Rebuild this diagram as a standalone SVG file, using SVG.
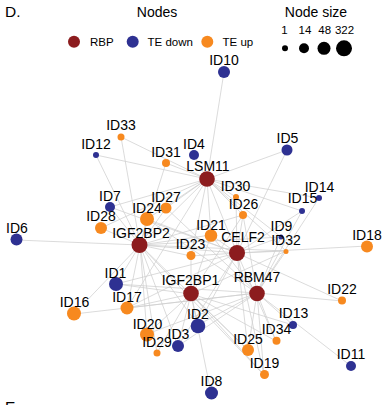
<svg xmlns="http://www.w3.org/2000/svg" width="383" height="405" viewBox="0 0 383 405">
<style>
.rbp{fill:#8C1C1E}
.down{fill:#2E3192}
.up{fill:#F7891F}
.blk{fill:#000}
text{font-family:"Liberation Sans",Arial,Helvetica,sans-serif;fill:#000}
.lbl{font-size:14px;text-anchor:middle}
.leg{font-size:11.5px}
.ttl{font-size:14px}
#connectors line{stroke:#CFCFCF;stroke-width:0.75}
</style>
<rect width="383" height="405" fill="#fff"/>
<text x="5" y="17" style="font-size:15.5px">D.</text>
<text x="5" y="412" style="font-size:15.5px">E.</text>
<g id="legend-nodes">
<text class="ttl" x="157" y="17" text-anchor="middle">Nodes</text>
<circle class="rbp" cx="74" cy="41.7" r="6"/><text class="leg" x="90" y="45.5">RBP</text>
<circle class="down" cx="132.7" cy="41.7" r="6"/><text class="leg" x="147.5" y="45.5">TE down</text>
<circle class="up" cx="207.3" cy="41.7" r="6"/><text class="leg" x="222.5" y="45.5">TE up</text>
</g>
<g id="legend-size">
<text class="ttl" x="316" y="17" text-anchor="middle">Node size</text>
<text class="leg" x="284.5" y="33.5" text-anchor="middle">1</text>
<text class="leg" x="305" y="33.5" text-anchor="middle">14</text>
<text class="leg" x="324.7" y="33.5" text-anchor="middle">48</text>
<text class="leg" x="344.5" y="33.5" text-anchor="middle">322</text>
<circle class="blk" cx="285" cy="48.3" r="3"/>
<circle class="blk" cx="304" cy="48.3" r="5"/>
<circle class="blk" cx="324" cy="48.3" r="6.5"/>
<circle class="blk" cx="344" cy="48.3" r="8"/>
</g>
<g id="connectors">
<!-- LSM11 (207,179) -->
<line x1="207" y1="179" x2="224" y2="72"/>
<line x1="207" y1="179" x2="194" y2="155"/>
<line x1="207" y1="179" x2="166" y2="163"/>
<line x1="207" y1="179" x2="121" y2="137"/>
<line x1="207" y1="179" x2="96" y2="155"/>
<line x1="207" y1="179" x2="287" y2="150"/>
<line x1="207" y1="179" x2="319" y2="198"/>
<line x1="207" y1="179" x2="302" y2="211"/>
<line x1="207" y1="179" x2="236" y2="197"/>
<line x1="207" y1="179" x2="243" y2="215"/>
<line x1="207" y1="179" x2="211" y2="235"/>
<line x1="207" y1="179" x2="166" y2="208"/>
<line x1="207" y1="179" x2="147" y2="219"/>
<line x1="207" y1="179" x2="101" y2="228"/>
<line x1="207" y1="179" x2="110" y2="207"/>
<line x1="207" y1="179" x2="191" y2="256"/>
<line x1="207" y1="179" x2="281" y2="237"/>
<line x1="207" y1="179" x2="286" y2="251"/>
<line x1="207" y1="179" x2="140" y2="245"/>
<line x1="207" y1="179" x2="237" y2="253"/>
<line x1="207" y1="179" x2="127" y2="308"/>
<!-- IGF2BP2 (140,245) -->
<line x1="140" y1="245" x2="16" y2="240"/>
<line x1="140" y1="245" x2="121" y2="137"/>
<line x1="140" y1="245" x2="96" y2="155"/>
<line x1="140" y1="245" x2="166" y2="163"/>
<line x1="140" y1="245" x2="110" y2="207"/>
<line x1="140" y1="245" x2="101" y2="228"/>
<line x1="140" y1="245" x2="147" y2="219"/>
<line x1="140" y1="245" x2="166" y2="208"/>
<line x1="140" y1="245" x2="211" y2="235"/>
<line x1="140" y1="245" x2="191" y2="256"/>
<line x1="140" y1="245" x2="116" y2="284"/>
<line x1="140" y1="245" x2="74" y2="314"/>
<line x1="140" y1="245" x2="127" y2="308"/>
<line x1="140" y1="245" x2="147" y2="334"/>
<line x1="140" y1="245" x2="157" y2="353"/>
<line x1="140" y1="245" x2="198" y2="325"/>
<line x1="140" y1="245" x2="178" y2="346"/>
<line x1="140" y1="245" x2="248" y2="350"/>
<line x1="140" y1="245" x2="264" y2="375"/>
<line x1="140" y1="245" x2="243" y2="215"/>
<line x1="140" y1="245" x2="281" y2="237"/>
<line x1="140" y1="245" x2="286" y2="251"/>
<line x1="140" y1="245" x2="237" y2="253"/>
<!-- CELF2 (237,253) -->
<line x1="237" y1="253" x2="287" y2="150"/>
<line x1="237" y1="253" x2="367" y2="246"/>
<line x1="237" y1="253" x2="286" y2="251"/>
<line x1="237" y1="253" x2="281" y2="237"/>
<line x1="237" y1="253" x2="243" y2="215"/>
<line x1="237" y1="253" x2="236" y2="197"/>
<line x1="237" y1="253" x2="211" y2="235"/>
<line x1="237" y1="253" x2="342" y2="301"/>
<line x1="237" y1="253" x2="276" y2="341"/>
<line x1="237" y1="253" x2="248" y2="350"/>
<line x1="237" y1="253" x2="198" y2="325"/>
<line x1="237" y1="253" x2="178" y2="346"/>
<line x1="237" y1="253" x2="127" y2="308"/>
<line x1="237" y1="253" x2="116" y2="284"/>
<line x1="237" y1="253" x2="191" y2="256"/>
<line x1="237" y1="253" x2="147" y2="219"/>
<line x1="237" y1="253" x2="302" y2="211"/>
<line x1="237" y1="253" x2="110" y2="207"/>
<line x1="237" y1="253" x2="264" y2="375"/>
<!-- IGF2BP1 (191,294) -->
<line x1="191" y1="294" x2="211" y2="393"/>
<line x1="191" y1="294" x2="198" y2="325"/>
<line x1="191" y1="294" x2="178" y2="346"/>
<line x1="191" y1="294" x2="157" y2="353"/>
<line x1="191" y1="294" x2="147" y2="334"/>
<line x1="191" y1="294" x2="127" y2="308"/>
<line x1="191" y1="294" x2="116" y2="284"/>
<line x1="191" y1="294" x2="248" y2="350"/>
<line x1="191" y1="294" x2="264" y2="375"/>
<line x1="191" y1="294" x2="293" y2="325"/>
<line x1="191" y1="294" x2="211" y2="235"/>
<line x1="191" y1="294" x2="191" y2="256"/>
<line x1="191" y1="294" x2="286" y2="251"/>
<line x1="191" y1="294" x2="276" y2="341"/>
<line x1="191" y1="294" x2="243" y2="215"/>
<!-- RBM47 (257,293) -->
<line x1="257" y1="293" x2="264" y2="375"/>
<line x1="257" y1="293" x2="248" y2="350"/>
<line x1="257" y1="293" x2="276" y2="341"/>
<line x1="257" y1="293" x2="293" y2="325"/>
<line x1="257" y1="293" x2="351" y2="366"/>
<line x1="257" y1="293" x2="342" y2="301"/>
<line x1="257" y1="293" x2="319" y2="198"/>
<line x1="257" y1="293" x2="302" y2="211"/>
<line x1="257" y1="293" x2="286" y2="251"/>
<line x1="257" y1="293" x2="281" y2="237"/>
<line x1="257" y1="293" x2="198" y2="325"/>
<line x1="257" y1="293" x2="178" y2="346"/>
<line x1="257" y1="293" x2="147" y2="334"/>
<line x1="257" y1="293" x2="74" y2="314"/>
<line x1="257" y1="293" x2="127" y2="308"/>
<line x1="257" y1="293" x2="116" y2="284"/>
<line x1="257" y1="293" x2="147" y2="219"/>
<line x1="257" y1="293" x2="166" y2="208"/>
<line x1="257" y1="293" x2="211" y2="235"/>
<line x1="257" y1="293" x2="243" y2="215"/>
</g>
<g id="node-ID10"><circle class="down" cx="224" cy="72" r="6"/><text class="lbl" x="224" y="65">ID10</text></g>
<g id="node-ID33"><circle class="up" cx="121" cy="137" r="3.5"/><text class="lbl" x="121" y="130">ID33</text></g>
<g id="node-ID12"><circle class="down" cx="96" cy="155" r="3"/><text class="lbl" x="96" y="149">ID12</text></g>
<g id="node-ID4"><circle class="down" cx="194" cy="155" r="5"/><text class="lbl" x="194" y="149">ID4</text></g>
<g id="node-ID5"><circle class="down" cx="287" cy="150" r="5.5"/><text class="lbl" x="287.5" y="143">ID5</text></g>
<g id="node-ID31"><circle class="up" cx="166" cy="163" r="4"/><text class="lbl" x="166" y="157">ID31</text></g>
<g id="node-ID30"><circle class="up" cx="236" cy="197" r="3"/><text class="lbl" x="235.5" y="191">ID30</text></g>
<g id="node-ID14"><circle class="down" cx="319" cy="198" r="3"/><text class="lbl" x="319.5" y="192">ID14</text></g>
<g id="node-ID15"><circle class="down" cx="302" cy="211" r="3"/><text class="lbl" x="302.5" y="203">ID15</text></g>
<g id="node-ID26"><circle class="up" cx="243" cy="215" r="4"/><text class="lbl" x="243.5" y="209">ID26</text></g>
<g id="node-ID7"><circle class="down" cx="110" cy="207" r="5"/><text class="lbl" x="110" y="201">ID7</text></g>
<g id="node-ID27"><circle class="up" cx="166" cy="208" r="5.5"/><text class="lbl" x="166" y="202">ID27</text></g>
<g id="node-ID24"><circle class="up" cx="147" cy="219" r="7"/><text class="lbl" x="147" y="212.5">ID24</text></g>
<g id="node-ID28"><circle class="up" cx="101" cy="228" r="6"/><text class="lbl" x="101" y="221">ID28</text></g>
<g id="node-ID6"><circle class="down" cx="16.5" cy="239.5" r="6"/><text class="lbl" x="17" y="233">ID6</text></g>
<g id="node-ID21"><circle class="up" cx="211" cy="235.5" r="6.3"/><text class="lbl" x="211" y="230">ID21</text></g>
<g id="node-ID9"><circle class="down" cx="281" cy="237" r="2.5"/><text class="lbl" x="281.5" y="231">ID9</text></g>
<g id="node-ID32"><circle class="up" cx="286" cy="251.5" r="2.5"/><text class="lbl" x="286" y="245">ID32</text></g>
<g id="node-ID18"><circle class="up" cx="367" cy="246.5" r="6"/><text class="lbl" x="367" y="239.5">ID18</text></g>
<g id="node-ID23"><circle class="up" cx="191" cy="255.5" r="4.5"/><text class="lbl" x="190.5" y="249">ID23</text></g>
<g id="node-ID1"><circle class="down" cx="116" cy="284" r="7"/><text class="lbl" x="115.5" y="278">ID1</text></g>
<g id="node-ID16"><circle class="up" cx="74" cy="313.5" r="7"/><text class="lbl" x="74.5" y="307">ID16</text></g>
<g id="node-ID17"><circle class="up" cx="127" cy="308" r="6.5"/><text class="lbl" x="127" y="302">ID17</text></g>
<g id="node-ID22"><circle class="up" cx="342" cy="300.5" r="4"/><text class="lbl" x="342" y="293.5">ID22</text></g>
<g id="node-ID13"><circle class="down" cx="293" cy="325" r="4"/><text class="lbl" x="293.5" y="318">ID13</text></g>
<g id="node-ID2"><circle class="down" cx="198" cy="326" r="7.3"/><text class="lbl" x="198" y="318.5">ID2</text></g>
<g id="node-ID20"><circle class="up" cx="147" cy="334.5" r="7"/><text class="lbl" x="147.5" y="328.5">ID20</text></g>
<g id="node-ID34"><circle class="up" cx="276.5" cy="340.7" r="4"/><text class="lbl" x="276.5" y="334">ID34</text></g>
<g id="node-ID3"><circle class="down" cx="178" cy="346" r="6"/><text class="lbl" x="178.5" y="339">ID3</text></g>
<g id="node-ID29"><circle class="up" cx="157" cy="353" r="3.5"/><text class="lbl" x="157" y="347">ID29</text></g>
<g id="node-ID25"><circle class="up" cx="248" cy="350" r="6"/><text class="lbl" x="248" y="343.5">ID25</text></g>
<g id="node-ID19"><circle class="up" cx="264.5" cy="374.5" r="4.5"/><text class="lbl" x="264.5" y="368">ID19</text></g>
<g id="node-ID11"><circle class="down" cx="351" cy="366" r="5"/><text class="lbl" x="351" y="359">ID11</text></g>
<g id="node-ID8"><circle class="down" cx="211.5" cy="393" r="6.5"/><text class="lbl" x="211.5" y="386">ID8</text></g>
<g id="node-LSM11"><circle class="rbp" cx="207" cy="179" r="7.8"/><text class="lbl" x="208" y="171">LSM11</text></g>
<g id="node-IGF2BP2"><circle class="rbp" cx="139.5" cy="245" r="8"/><text class="lbl" x="141" y="237.5">IGF2BP2</text></g>
<g id="node-CELF2"><circle class="rbp" cx="237" cy="253" r="8"/><text class="lbl" x="243" y="242">CELF2</text></g>
<g id="node-IGF2BP1"><circle class="rbp" cx="191" cy="293.5" r="7.8"/><text class="lbl" x="190.5" y="285">IGF2BP1</text></g>
<g id="node-RBM47"><circle class="rbp" cx="257" cy="293.5" r="7.8"/><text class="lbl" x="257" y="282">RBM47</text></g>
</svg>
